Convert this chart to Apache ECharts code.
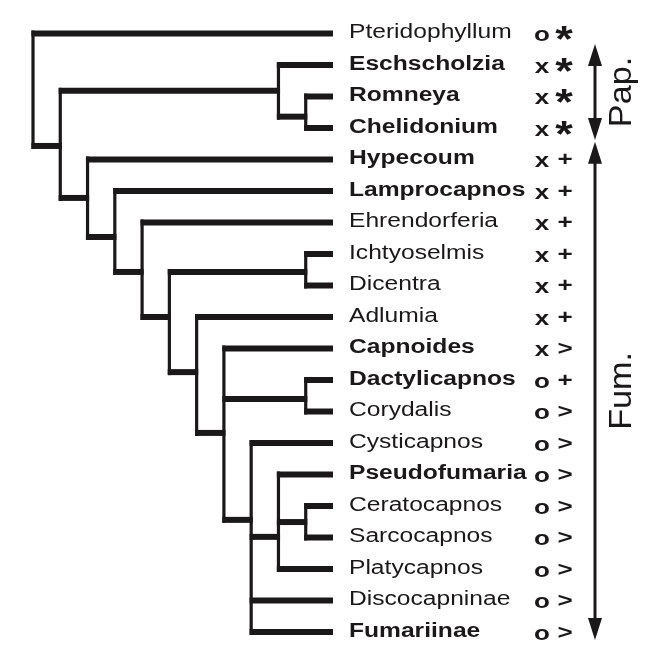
<!DOCTYPE html>
<html>
<head>
<meta charset="utf-8">
<script src="https://cdn.jsdelivr.net/npm/echarts@6/dist/echarts.min.js"></script>
<style>
html,body{margin:0;padding:0;background:#ffffff;}
#chart{width:664px;height:656px;}
</style>
</head>
<body>
<div id="chart"></div>
<script>
// ---- data ----
const taxa = ['Pteridophyllum','Eschscholzia','Romneya','Chelidonium','Hypecoum','Lamprocapnos','Ehrendorferia','Ichtyoselmis','Dicentra','Adlumia','Capnoides','Dactylicapnos','Corydalis','Cysticapnos','Pseudofumaria','Ceratocapnos','Sarcocapnos','Platycapnos','Discocapninae','Fumariinae'];
const boldTaxa = [0,1,1,1,1,1,0,0,0,0,1,1,0,0,1,0,0,0,0,1];
const traitA = ['o','x','x','x','x','x','x','x','x','x','x','o','o','o','o','o','o','o','o','o'];
const traitB = ['*','*','*','*','+','+','+','+','+','+','>','+','>','>','>','>','>','>','>','>'];
const leafDepth = 11;
const nodeIds    = ['root','N1','Pap','RC','Fum','N2','N3','N4','ID','N5','N6','DC','N7','N8','CS'];
const nodeDepth  = [0, 1, 9, 10, 2, 3, 4, 5, 10, 6, 7, 10, 8, 9, 10];
const nodeRow    = [1.8, 3.57, 1.82, 2.64, 5.22, 6.46, 7.57, 9.0, 7.57, 10.75, 12.68, 11.6, 15.44, 15.98, 15.51];
const nodeChildren = [
  ['Pteridophyllum','N1'],
  ['Pap','Fum'],
  ['Eschscholzia','RC'],
  ['Romneya','Chelidonium'],
  ['Hypecoum','N2'],
  ['Lamprocapnos','N3'],
  ['Ehrendorferia','N4'],
  ['ID','N5'],
  ['Ichtyoselmis','Dicentra'],
  ['Adlumia','N6'],
  ['Capnoides','DC','N7'],
  ['Dactylicapnos','Corydalis'],
  ['Cysticapnos','N8','Discocapninae','Fumariinae'],
  ['Pseudofumaria','CS','Platycapnos'],
  ['Ceratocapnos','Sarcocapnos']
];
const cladeNames = ['Pap.','Fum.'];
const cladeStart = [0.33, 3.44];
const cladeEnd   = [3.38, 19.25];

// ---- drawing ----
const INK = '#1a1818';
const HW = 1.6;   // half width of vertical branches
const HT = 3;     // half thickness of horizontal branches

function posOf(name){
  const li = taxa.indexOf(name);
  if (li >= 0) return [leafDepth, li];
  const ni = nodeIds.indexOf(name);
  return [nodeDepth[ni], nodeRow[ni]];
}

const chart = echarts.init(document.getElementById('chart'), null, {renderer:'canvas'});
chart.setOption({
  animation:false,
  backgroundColor:'#ffffff',
  grid:{left:33, top:33.5, width:300, height:598.5},
  xAxis:{type:'value', min:0, max:11, show:false},
  yAxis:{type:'value', min:0, max:19, inverse:true, show:false},
  series:[
    {
      type:'custom', clip:false, silent:true,
      data: nodeDepth.map((d,i)=>[d, nodeRow[i]]),
      renderItem:function(params, api){
        const i = params.dataIndex;
        const p = api.coord([api.value(0), api.value(1)]);
        const kids = nodeChildren[i];
        const kidPx = kids.map(k => api.coord(posOf(k)));
        const ys = kidPx.map(k => k[1]);
        const yMin = Math.min.apply(null, ys), yMax = Math.max.apply(null, ys);
        const ch = [{type:'rect', shape:{x:p[0]-HW, y:yMin-HT, width:2*HW, height:yMax-yMin+2*HT}, style:{fill:INK}}];
        kidPx.forEach((k, j) => {
          const isLeaf = taxa.indexOf(kids[j]) >= 0;
          const xEnd = isLeaf ? k[0] : k[0] + HW;
          ch.push({type:'rect', shape:{x:p[0]-HW, y:k[1]-HT, width:xEnd-(p[0]-HW), height:2*HT}, style:{fill:INK}});
        });
        return {type:'group', children:ch};
      }
    },
    {
      type:'custom', clip:false, silent:true,
      data: taxa.map((t,i)=>[leafDepth, i]),
      renderItem:function(params, api){
        const i = params.dataIndex;
        const p = api.coord([api.value(0), api.value(1)]);
        const x0 = p[0], y0 = p[1];
        const ch = [
          {type:'text', x:x0+16, y:y0-1, scaleX:1.23,
            style:{text:taxa[i], font:(boldTaxa[i]?'bold ':'')+'20px "Liberation Sans"', fill:INK, align:'left', verticalAlign:'middle'}},
          {type:'text', x:x0+209, y:y0+2, scaleX:1.3,
            style:{text:traitA[i], font:'bold 20px "Liberation Sans"', fill:INK, align:'center', verticalAlign:'middle'}}
        ];
        if (traitB[i] === '*') {
          ch.push({type:'text', x:x0+231, y:y0+9, scaleX:1.25,
            style:{text:'*', font:'bold 36px "Liberation Sans"', fill:INK, align:'center', verticalAlign:'middle'}});
        } else {
          ch.push({type:'text', x:x0+232, y:y0+1, scaleX:1.3,
            style:{text:traitB[i], font:'bold 20px "Liberation Sans"', fill:INK, align:'center', verticalAlign:'middle'}});
        }
        return {type:'group', children:ch};
      }
    },
    {
      type:'custom', clip:false, silent:true,
      data: cladeStart.map((s,i)=>[s, cladeEnd[i]]),
      renderItem:function(params, api){
        const i = params.dataIndex;
        const xL = api.coord([leafDepth, 0])[0];
        const ax = xL + 262;
        const yT = api.coord([0, api.value(0)])[1];
        const yB = api.coord([0, api.value(1)])[1];
        const hl = 22, hw = 7;
        return {type:'group', children:[
          {type:'rect', shape:{x:ax-1.5, y:yT+hl-2, width:3, height:(yB-yT)-2*hl+4}, style:{fill:INK}},
          {type:'polygon', shape:{points:[[ax,yT],[ax-hw,yT+hl],[ax+hw,yT+hl]]}, style:{fill:INK}},
          {type:'polygon', shape:{points:[[ax,yB],[ax-hw,yB-hl],[ax+hw,yB-hl]]}, style:{fill:INK}},
          {type:'text', x:ax+27, y:(yT+yB)/2, rotation:Math.PI/2, scaleX:1.07,
            style:{text:cladeNames[i], font:'32px "Liberation Sans"', fill:INK, align:'center', verticalAlign:'middle'}}
        ]};
      }
    }
  ]
});
</script>
</body>
</html>
